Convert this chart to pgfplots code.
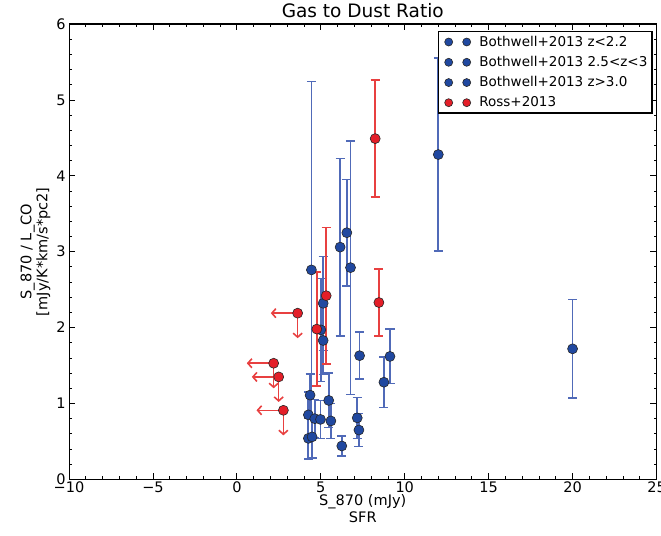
\documentclass[border=0pt]{standalone}
\usepackage{fontspec}
\setmainfont{DejaVu Sans}
\usepackage{pgfplots}
\pgfplotsset{compat=1.18}
\usepackage{pgfplotstable}
\usetikzlibrary{arrows.meta}
\definecolor{bmark}{RGB}{32,72,160}
\definecolor{bbar}{RGB}{80,106,184}
\definecolor{rmark}{RGB}{228,30,40}
\definecolor{rbar}{RGB}{232,64,64}

% Bothwell+2013 (values in units of 1e-10)
\pgfplotstableread{
x y ey
12.00 4.28 1.27
20.00 1.72 0.65
4.44 2.76 2.48
6.55 3.25 0.70
6.15 3.06 1.17
6.77 2.79 1.67
5.14 2.32 0.62
5.00 1.97 0.68
}\bothA
\pgfplotstableread{
x y ey
5.14 1.83 0.45
7.31 1.63 0.31
9.12 1.62 0.36
8.76 1.28 0.33
4.36 1.11 0.28
5.47 1.04 0.36
4.26 0.85 0.30
4.64 0.80 0.25
}\bothB
\pgfplotstableread{
x y ey
4.98 0.79 0.25
5.60 0.77 0.23
7.17 0.81 0.27
7.27 0.65 0.22
4.26 0.54 0.27
4.48 0.56 0.28
6.25 0.44 0.13
}\bothC
% Ross+2013 detections
\pgfplotstableread{
x y ey
8.24 4.49 0.77
8.46 2.33 0.44
5.32 2.42 0.90
4.76 1.98 0.75
}\rossdet
% Ross+2013 upper limits
\pgfplotstableread{
x y
3.62 2.19
2.19 1.53
2.49 1.35
2.77 0.91
}\rosslim

\begin{document}
\begin{tikzpicture}
\begin{axis}[
  scale only axis,
  width=587pt, height=455pt,
  xmin=-10, xmax=25, ymin=0, ymax=6,
  xtick={-10,-5,0,5,10,15,20,25},
  xticklabels={−10,−5,0,5,10,15,20,25},
  ytick={0,1,2,3,4,5,6},
  yticklabels={0,1,2,3,4,5,6},
  minor x tick num=4, minor y tick num=4,
  tick align=inside,
  major tick length=6pt, minor tick length=3pt,
  tick style={black, line width=0.8pt},
  axis line style={black, line width=1.1pt},
  ticklabel style={font=\fontsize{14.5}{17}\selectfont},
  xticklabel style={yshift=1pt},
  /pgf/number format/assume math mode=true,
  title={Gas to Dust Ratio},
  title style={font=\fontsize{18.5}{21}\selectfont, yshift=-3pt},
  xlabel={S\_870 (mJy)\\SFR},
  xlabel style={align=center, font=\fontsize{14.5}{17}\selectfont, yshift=5pt},
  ylabel={S\_870 / L\_CO\\{}[mJy/K*km/s*pc2]},
  ylabel style={align=center, font=\fontsize{14.5}{16}\selectfont, yshift=-1pt},
  legend style={at={(1,1)}, anchor=north east, xshift=-4pt, yshift=-7pt,
    draw=black, line width=1.2pt, font=\fontsize{13.5}{15}\selectfont,
    row sep=4.5pt, inner sep=2.5pt},
  legend cell align=left,
  legend image code/.code={\draw[#1, mark size=4pt] plot coordinates {(0pt,0pt) (18pt,0pt)};
    \path (-7pt,0pt) (28pt,0pt);},
  ecap/.style={forget plot, line width=1.4pt, quiver={u=0.54, v=0}},
  bstyle/.style={only marks, mark=*, mark size=5pt,
    mark options={fill=bmark, draw=black!85, line width=0.6pt}},
  rstyle/.style={only marks, mark=*, mark size=5pt,
    mark options={fill=rmark, draw=black!85, line width=0.6pt}},
]
% error bars (vertical line and caps), drawn from the tables
\addplot[forget plot, bbar, line width=1.8pt, quiver={u=0, v=2*\thisrow{ey}}] table[x=x, y expr=\thisrow{y}-\thisrow{ey}] {\bothA};
\addplot[ecap, bbar] table[x expr=\thisrow{x}-0.27, y expr=\thisrow{y}+\thisrow{ey}] {\bothA};
\addplot[ecap, bbar] table[x expr=\thisrow{x}-0.27, y expr=\thisrow{y}-\thisrow{ey}] {\bothA};
\addplot[forget plot, bbar, line width=1.8pt, quiver={u=0, v=2*\thisrow{ey}}] table[x=x, y expr=\thisrow{y}-\thisrow{ey}] {\bothB};
\addplot[ecap, bbar] table[x expr=\thisrow{x}-0.27, y expr=\thisrow{y}+\thisrow{ey}] {\bothB};
\addplot[ecap, bbar] table[x expr=\thisrow{x}-0.27, y expr=\thisrow{y}-\thisrow{ey}] {\bothB};
\addplot[forget plot, bbar, line width=1.8pt, quiver={u=0, v=2*\thisrow{ey}}] table[x=x, y expr=\thisrow{y}-\thisrow{ey}] {\bothC};
\addplot[ecap, bbar] table[x expr=\thisrow{x}-0.27, y expr=\thisrow{y}+\thisrow{ey}] {\bothC};
\addplot[ecap, bbar] table[x expr=\thisrow{x}-0.27, y expr=\thisrow{y}-\thisrow{ey}] {\bothC};
\addplot[forget plot, rbar, line width=1.6pt, quiver={u=0, v=2*\thisrow{ey}}] table[x=x, y expr=\thisrow{y}-\thisrow{ey}] {\rossdet};
\addplot[ecap, rbar] table[x expr=\thisrow{x}-0.27, y expr=\thisrow{y}+\thisrow{ey}] {\rossdet};
\addplot[ecap, rbar] table[x expr=\thisrow{x}-0.27, y expr=\thisrow{y}-\thisrow{ey}] {\rossdet};
% points
\addplot[bstyle] table[x=x, y=y] {\bothA};
\addlegendentry{Bothwell+2013 z<2.2}
\addplot[bstyle] table[x=x, y=y] {\bothB};
\addlegendentry{Bothwell+2013 2.5<z<3}
\addplot[bstyle] table[x=x, y=y] {\bothC};
\addlegendentry{Bothwell+2013 z>3.0}
\addplot[rstyle] table[x=x, y=y] {\rossdet};
\addlegendentry{Ross+2013}
% upper-limit arrows
\addplot[forget plot, rbar, line width=1.6pt, -{Straight Barb[length=4pt,width=9pt]},
  quiver={u=-1.6, v=0}] table[x=x, y=y] {\rosslim};
\addplot[forget plot, rbar, line width=1.6pt, -{Straight Barb[length=4pt,width=9pt]},
  quiver={u=0, v=-0.33}] table[x=x, y=y] {\rosslim};
\addplot[forget plot, only marks, mark=*, mark size=5pt,
  mark options={fill=rmark, draw=black!85, line width=0.6pt}] table[x=x, y=y] {\rosslim};
\node[anchor=south west, font=\fontsize{14.5}{17}\selectfont, inner sep=1pt]
  at (rel axis cs:0,1) {1e−10};
\end{axis}
\pgfresetboundingbox
\path ([shift={(-69pt,-56pt)}]current axis.south west) rectangle ([shift={(4.5pt,24pt)}]current axis.north east);
\end{tikzpicture}
\end{document}
